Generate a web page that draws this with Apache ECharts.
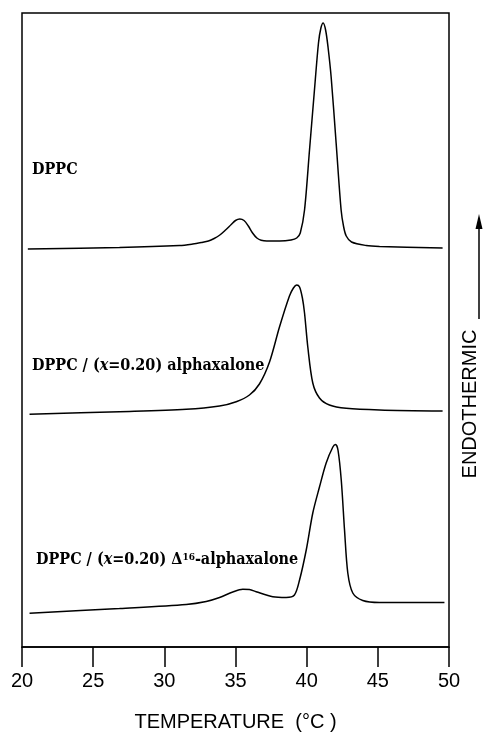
<!DOCTYPE html>
<html>
<head>
<meta charset="utf-8">
<script src="https://cdn.jsdelivr.net/npm/echarts@6/dist/echarts.min.js"></script>
<style>
html,body{margin:0;padding:0;background:#fff;}
#chart{width:486px;height:737px;}
</style>
</head>
<body>
<div id="chart"></div>
<script>
// Temperature (°C) and heat flow (arbitrary units, endothermic up)
var dppcT = [20.41, 26.85, 31.07, 32.0, 32.6, 33.1, 33.5, 33.9, 34.3, 34.7, 35.0, 35.3, 35.6, 35.9, 36.2, 36.5, 36.8, 37.2, 38.1, 38.9, 39.3, 39.55, 39.85, 40.2, 40.53, 40.83, 41.0, 41.16, 41.33, 41.5, 41.72, 42.07, 42.42, 42.6, 42.78, 43.15, 44.18, 45.12, 49.55];
var dppcHF = [398, 399.5, 401.5, 403, 404.5, 406, 408.5, 412, 417, 422.5, 426.5, 428, 426.5, 421, 414, 409, 406.8, 406, 406, 407, 409, 414, 437, 497, 554, 604, 619, 624, 617, 600, 570, 504, 437, 420, 411, 405, 401.5, 400.5, 399];

var alphaT = [20.53, 26.85, 31.54, 33.88, 35.05, 35.98, 36.68, 37.39, 38.09, 38.79, 39.07, 39.3, 39.5, 39.7, 39.85, 40.08, 40.43, 40.90, 41.60, 42.78, 45.12, 49.55];
var alphaHF = [232.7, 235.3, 237.7, 241, 245.3, 252, 263, 285, 320, 351, 359, 362, 360, 349, 334, 300, 264, 249, 242, 238.7, 237, 236];

var d16T = [20.53, 26.85, 31.54, 32.94, 33.88, 34.81, 35.51, 35.98, 36.45, 37.62, 38.56, 39.14, 39.50, 39.97, 40.43, 40.90, 41.37, 41.84, 42.03, 42.20, 42.43, 42.66, 42.89, 43.24, 43.94, 45.12, 49.68];
var d16HF = [33.7, 38.5, 42.5, 45.5, 49.5, 55, 57.7, 57.5, 55.3, 50.3, 49.5, 52, 67, 97, 134, 160, 184, 200, 202.5, 197, 167, 117, 74, 54, 46.5, 44.5, 44.5];

var xTicks = [20, 25, 30, 35, 40, 45, 50];
var xName = 'TEMPERATURE  (°C )';
var yName = 'ENDOTHERMIC';
var curveLabels = ['DPPC', 'DPPC / ({i|x}=0.20) alphaxalone', 'DPPC / ({i|x}=0.20) Δ{sup|16}-alphaxalone'];

function zip(a, b) { return a.map(function (v, i) { return [v, b[i]]; }); }

var chart = echarts.init(document.getElementById('chart'), null, {renderer: 'canvas'});
var sansFont = 'Liberation Sans';
var serifFont = '"DejaVu Serif Condensed", "DejaVu Serif"';
var lblStyle = {
  fill: '#000', font: 'bold 16px "DejaVu Serif Condensed", "DejaVu Serif"',
  rich: {
    i: {fontFamily: serifFont, fontStyle: 'italic', fontWeight: 'bold', fontSize: 16},
    sup: {fontFamily: serifFont, fontWeight: 'bold', fontSize: 10, verticalAlign: 'top'}
  }
};
function lineSeries(t, v) {
  return {
    type: 'line', data: zip(t, v), showSymbol: false, smooth: 0.3,
    lineStyle: {color: '#000', width: 1.5}, silent: true, animation: false
  };
}
chart.setOption({
  animation: false,
  grid: {left: 22, right: 37, top: 13, bottom: 90, show: true, borderColor: '#000', borderWidth: 1.5},
  xAxis: {
    type: 'value', min: xTicks[0], max: xTicks[xTicks.length - 1], interval: 5,
    axisLine: {show: true, lineStyle: {color: '#000', width: 1.5}},
    axisTick: {show: true, length: 20, lineStyle: {color: '#000', width: 1.5}},
    splitLine: {show: false},
    axisLabel: {color: '#000', fontSize: 20, fontFamily: sansFont, margin: 24},
    name: xName, nameLocation: 'middle', nameGap: 65,
    nameTextStyle: {color: '#000', fontSize: 20, fontFamily: sansFont}
  },
  yAxis: {type: 'value', min: 0, max: 634, show: false},
  series: [lineSeries(dppcT, dppcHF), lineSeries(alphaT, alphaHF), lineSeries(d16T, d16HF)],
  graphic: [
    {type: 'text', x: 32, y: 170, style: Object.assign({text: curveLabels[0], textVerticalAlign: 'middle'}, lblStyle)},
    {type: 'text', x: 32, y: 366, style: Object.assign({text: curveLabels[1], textVerticalAlign: 'middle'}, lblStyle)},
    {type: 'text', x: 36, y: 560, style: Object.assign({text: curveLabels[2], textVerticalAlign: 'middle'}, lblStyle)},
    {type: 'text', x: 470, y: 404, rotation: Math.PI / 2,
      style: {text: yName, fill: '#000', font: '20px "Liberation Sans"', textAlign: 'center', textVerticalAlign: 'middle'}},
    {type: 'line', shape: {x1: 479, y1: 319, x2: 479, y2: 226}, style: {stroke: '#000', lineWidth: 1.5}},
    {type: 'polygon', shape: {points: [[479, 214], [475.5, 229], [482.5, 229]]}, style: {fill: '#000'}}
  ]
});
</script>
</body>
</html>
